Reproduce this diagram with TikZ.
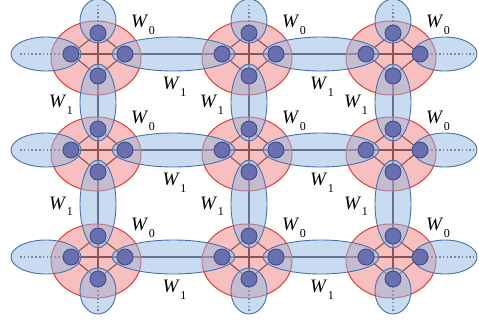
\documentclass[tikz,border=0pt]{standalone}
\usepackage{fontspec}
\setmainfont{Liberation Serif}
\usetikzlibrary{calc}
\definecolor{bluefill}{RGB}{150,186,226}
\definecolor{blueline}{RGB}{72,112,170}
\definecolor{redfill}{RGB}{240,128,128}
\definecolor{redline}{RGB}{222,58,58}
\definecolor{dotfill}{RGB}{105,112,175}
\definecolor{dotline}{RGB}{62,70,128}
\definecolor{linec}{RGB}{40,40,40}
\pgfdeclarelayer{lines}
\pgfdeclarelayer{fills}
\pgfsetlayers{lines,fills,main}
\newcommand\wlab[1]{\textit{W}\kern0.5pt\raisebox{-6.5pt}{\fontsize{12}{12}\selectfont #1}}
\tikzset{
  dotnode/.style={circle,fill=dotfill,draw=dotline,line width=0.8pt,minimum size=16pt,inner sep=0pt},
  link/.style={draw=linec,line width=1.1pt},
  bnd/.style={draw=linec!80,line width=1.3pt,dash pattern=on 1.6pt off 2.2pt},
  site/.style={fill=redfill,fill opacity=0.5,draw=redline,line width=1pt},
  pair/.style={fill=bluefill,fill opacity=0.52,draw=blueline,line width=0.9pt},
  lab/.style={font=\fontsize{19}{21}\selectfont,inner sep=0pt}
}
\begin{document}
\begin{tikzpicture}[x=1pt,y=-1pt]
\useasboundingbox (0,0) rectangle (479,322);
% sites
\foreach \i/\y in {0/54,1/150,2/257}{
  \foreach \j/\x in {0/98,1/249,2/393}{
    \node[dotnode] (t\i\j) at (\x,\y-21) {};
    \node[dotnode] (l\i\j) at (\x-27,\y) {};
    \node[dotnode] (r\i\j) at (\x+27,\y) {};
    \node[dotnode] (b\i\j) at (\x,\y+22) {};
    \node[lab] (w\i\j) at (\x+45,\y-29) {\wlab{0}};
    \begin{pgfonlayer}{lines}
      \draw[link] (t\i\j.center) -- (l\i\j.center) -- (b\i\j.center) -- (r\i\j.center) -- (t\i\j.center);
      \draw[link] (l\i\j.center) -- (r\i\j.center);
      \draw[link] (t\i\j.center) -- (b\i\j.center);
    \end{pgfonlayer}
    \begin{pgfonlayer}{fills}
      \draw[site] (\x-2,\y+4) ellipse [x radius=45, y radius=37];
    \end{pgfonlayer}
  }
}
% horizontal pairs
\foreach \i/\y in {0/54,1/150,2/257}{
  \foreach \j/\k/\xa/\xb in {0/1/98/249,1/2/249/393}{
    \pgfmathsetmacro\rx{(\xb-\xa)/2-14}
    \begin{pgfonlayer}{lines}
      \draw[link] (r\i\j.center) -- (l\i\k.center);
    \end{pgfonlayer}
    \begin{pgfonlayer}{fills}
      \draw[pair] ($(r\i\j.center)!0.5!(l\i\k.center)$) ellipse [x radius=\rx, y radius=17];
    \end{pgfonlayer}
    \node[lab] (h\i\j) at ({(\xa+\xb)/2+1},\y+33) {\wlab{1}};
  }
}
% vertical pairs
\foreach \j/\x in {0/98,1/249,2/393}{
  \foreach \i/\k/\ya/\yb in {0/1/54/150,1/2/150/257}{
    \pgfmathsetmacro\ry{(\yb-\ya-43)/2+12}
    \begin{pgfonlayer}{lines}
      \draw[link] (b\i\j.center) -- (t\k\j.center);
    \end{pgfonlayer}
    \begin{pgfonlayer}{fills}
      \draw[pair] ($(b\i\j.center)!0.5!(t\k\j.center)$) ellipse [x radius=18, y radius=\ry];
    \end{pgfonlayer}
    \node[lab] (v\i\j) at (\x-37,{(\ya+\yb)/2+3}) {\wlab{1}};
  }
}
% boundary: top and bottom
\foreach \j/\x in {0/98,1/249,2/393}{
  \coordinate (et\j) at (\x,4);
  \coordinate (eb\j) at (\x,311);
  \begin{pgfonlayer}{lines}
    \draw[bnd] (t0\j.center) -- (et\j);
    \draw[bnd] (b2\j.center) -- (eb\j);
  \end{pgfonlayer}
  \begin{pgfonlayer}{fills}
    \draw[pair] ($(t0\j.center)+(0,-12)$) ellipse [x radius=18, y radius=22];
    \draw[pair] ($(b2\j.center)+(0,12)$) ellipse [x radius=18, y radius=23];
  \end{pgfonlayer}
}
% boundary: left and right
\foreach \i/\y in {0/54,1/150,2/257}{
  \coordinate (el\i) at (18,\y);
  \coordinate (er\i) at (474,\y);
  \begin{pgfonlayer}{lines}
    \draw[bnd] (l\i0.center) -- (el\i);
    \draw[bnd] (r\i2.center) -- (er\i);
  \end{pgfonlayer}
  \begin{pgfonlayer}{fills}
    \draw[pair] ($(l\i0.center)+(-25,0)$) ellipse [x radius=35, y radius=17];
    \draw[pair] ($(r\i2.center)+(25,0)$) ellipse [x radius=32, y radius=17];
  \end{pgfonlayer}
}
\end{tikzpicture}
\end{document}
